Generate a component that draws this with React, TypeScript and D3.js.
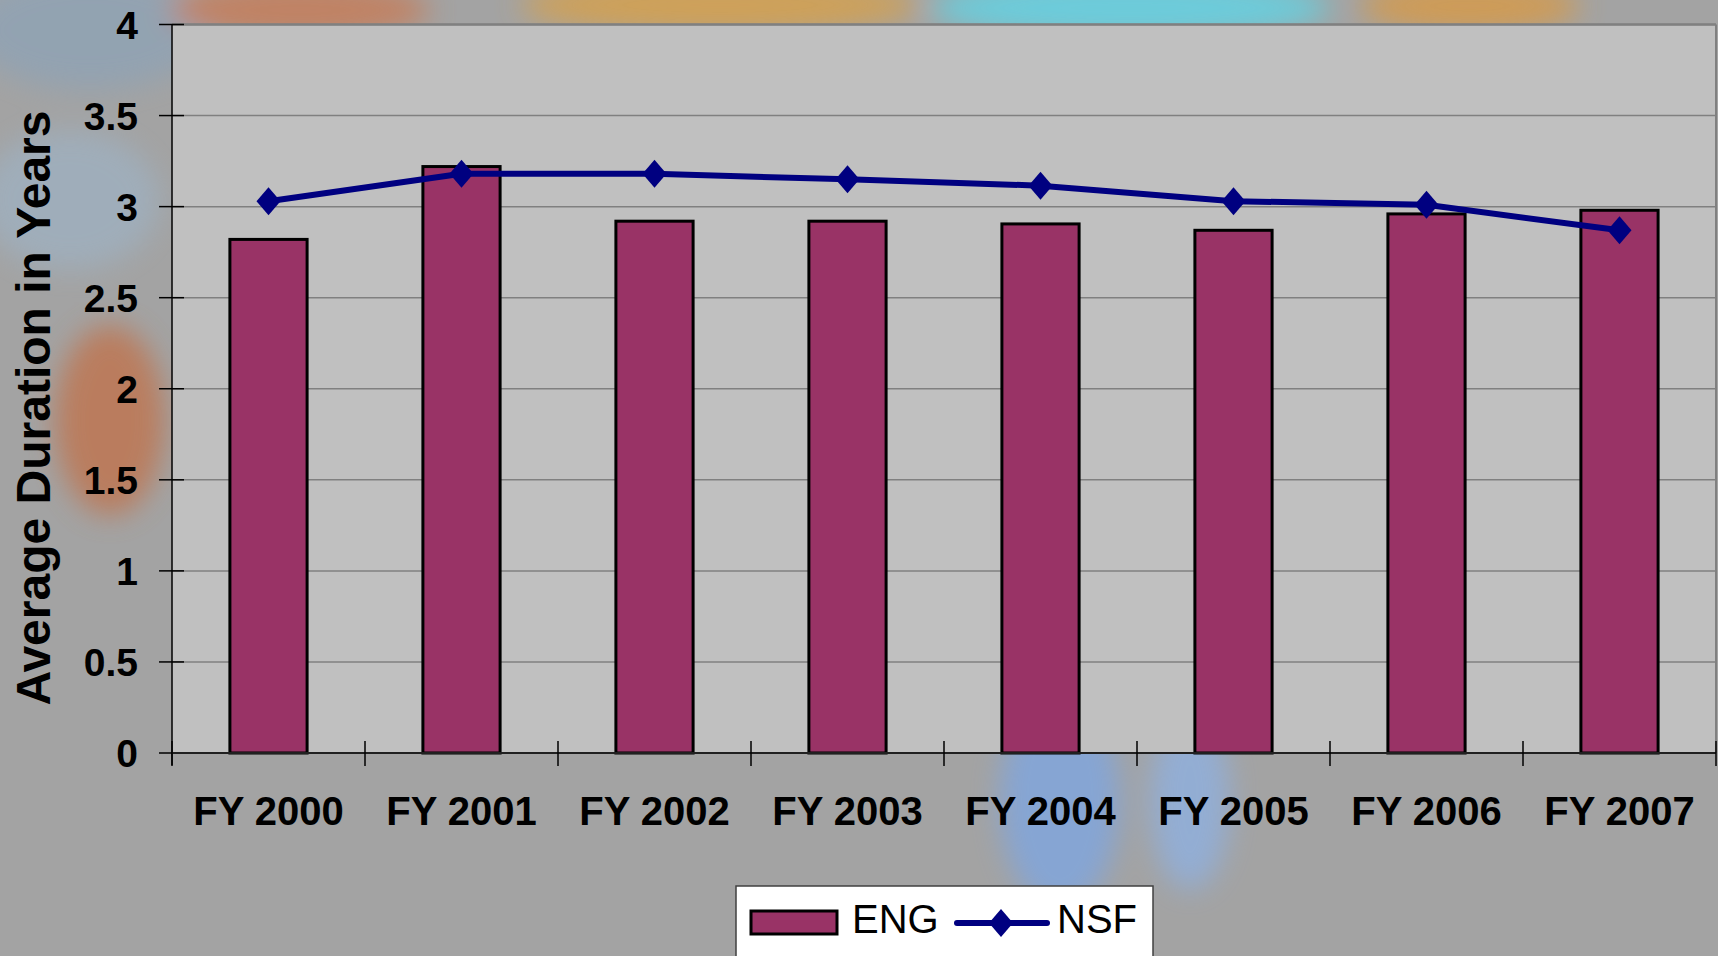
import React from "react";
import * as d3 from "d3";

const categories = ["FY 2000", "FY 2001", "FY 2002", "FY 2003", "FY 2004", "FY 2005", "FY 2006", "FY 2007"];
const engValues = [2.82, 3.22, 2.92, 2.92, 2.905, 2.87, 2.96, 2.98];
const nsfValues = [3.03, 3.18, 3.18, 3.15, 3.115, 3.03, 3.01, 2.87];
const yTicks = [0, 0.5, 1, 1.5, 2, 2.5, 3, 3.5, 4];
const yTickLabels = ["0", "0.5", "1", "1.5", "2", "2.5", "3", "3.5", "4"];
const seriesNames = ["ENG", "NSF"];

const W = 1718;
const H = 956;
const L = 172;
const R = 1716;
const T = 24.5;
const B = 753;

const BAR = "#993366";
const LINE = "#000080";
const FONT = "'Liberation Sans', Arial, sans-serif";

export default function App() {
  const x = d3.scaleBand<string>().domain(categories).range([L, R]).paddingInner(0.6).paddingOuter(0.3);
  const y = d3.scaleLinear().domain([0, 4]).range([B, T]);
  const step = x.step();
  const bw = x.bandwidth();
  const cx = (c: string) => (x(c) as number) + bw / 2;
  const line = d3.line<number>().x((_, i) => cx(categories[i])).y((v) => y(v));
  const diamond = (px: number, py: number) => `M${px},${py - 14}L${px + 12},${py}L${px},${py + 14}L${px - 12},${py}Z`;
  const boundaries = d3.range(categories.length + 1).map((i) => L + i * step);

  return (
    <svg width={W} height={H} style={{ position: "absolute", left: 0, top: 0 }} fontFamily={FONT}>
      <defs>
        <filter id="blur" x="-50%" y="-50%" width="200%" height="200%">
          <feGaussianBlur stdDeviation="14" />
        </filter>
      </defs>
      <rect x={0} y={0} width={W} height={H} fill="#a3a3a3" />
      {/* decorative background texture */}
      <g filter="url(#blur)" opacity={0.8}>
        <ellipse cx={90} cy={30} rx={120} ry={60} fill="#8fa3b5" />
        <ellipse cx={300} cy={10} rx={130} ry={30} fill="#c87a55" />
        <ellipse cx={720} cy={5} rx={200} ry={30} fill="#d9a046" />
        <ellipse cx={1130} cy={8} rx={200} ry={32} fill="#5fd6e8" />
        <ellipse cx={1470} cy={6} rx={110} ry={28} fill="#d99a45" />
        <ellipse cx={110} cy={420} rx={55} ry={95} fill="#c0734d" />
        <ellipse cx={70} cy={200} rx={90} ry={70} fill="#9fb0c0" />
        <ellipse cx={1060} cy={800} rx={60} ry={110} fill="#7fa6e0" />
        <ellipse cx={1190} cy={800} rx={40} ry={90} fill="#8fb0e0" />
      </g>
      {/* plot area */}
      <rect x={L} y={T} width={R - L} height={B - T} fill="#c0c0c0" />
      {yTicks.slice(1).map((t) => (
        <line key={t} x1={L} x2={R} y1={y(t)} y2={y(t)} stroke="#808080" strokeWidth={1.5} />
      ))}
      <line x1={R} x2={R} y1={T} y2={B} stroke="#808080" strokeWidth={2} />
      <line x1={L} x2={R} y1={T} y2={T} stroke="#808080" strokeWidth={2.5} />
      {/* bars */}
      {engValues.map((v, i) => (
        <rect key={i} x={x(categories[i])} y={y(v)} width={bw} height={B - y(v)} fill={BAR} stroke="#000" strokeWidth={3} />
      ))}
      {/* axes */}
      <line x1={L} x2={L} y1={T} y2={B + 12} stroke="#000" strokeWidth={1.5} />
      {yTicks.map((t) => (
        <line key={t} x1={L - 13} x2={L + 12} y1={y(t)} y2={y(t)} stroke="#000" strokeWidth={1.5} />
      ))}
      <line x1={L} x2={R} y1={B} y2={B} stroke="#202020" strokeWidth={2} />
      {boundaries.map((bx, i) => (
        <line key={i} x1={bx} x2={bx} y1={B - 12} y2={B + 13} stroke="#000" strokeWidth={1.5} />
      ))}
      {yTicks.map((t, i) => (
        <text key={t} x={138} y={y(t)} dy="0.36em" textAnchor="end" fontSize={39} fontWeight="bold" fill="#000">
          {yTickLabels[i]}
        </text>
      ))}
      {categories.map((c) => (
        <text key={c} x={cx(c)} y={825} textAnchor="middle" fontSize={40} fontWeight="bold" fill="#000">
          {c}
        </text>
      ))}
      <text transform={`translate(50,408) rotate(-90)`} textAnchor="middle" fontSize={48} fontWeight="bold" fill="#000">
        Average Duration in Years
      </text>
      {/* NSF line */}
      <path d={line(nsfValues) as string} fill="none" stroke={LINE} strokeWidth={6} strokeLinejoin="round" />
      {nsfValues.map((v, i) => (
        <path key={i} d={diamond(cx(categories[i]), y(v))} fill={LINE} />
      ))}
      {/* legend */}
      <rect x={736} y={886} width={417} height={90} fill="#ffffff" stroke="#404040" strokeWidth={1.5} />
      <rect x={751} y={911} width={86} height={23} fill={BAR} stroke="#000" strokeWidth={3} />
      <text x={852} y={933} fontSize={40} fill="#000">{seriesNames[0]}</text>
      <line x1={957} x2={1047} y1={923} y2={923} stroke={LINE} strokeWidth={6} strokeLinecap="round" />
      <path d={diamond(1001, 923)} fill={LINE} />
      <text x={1057} y={933} fontSize={40} fill="#000">{seriesNames[1]}</text>
    </svg>
  );
}
